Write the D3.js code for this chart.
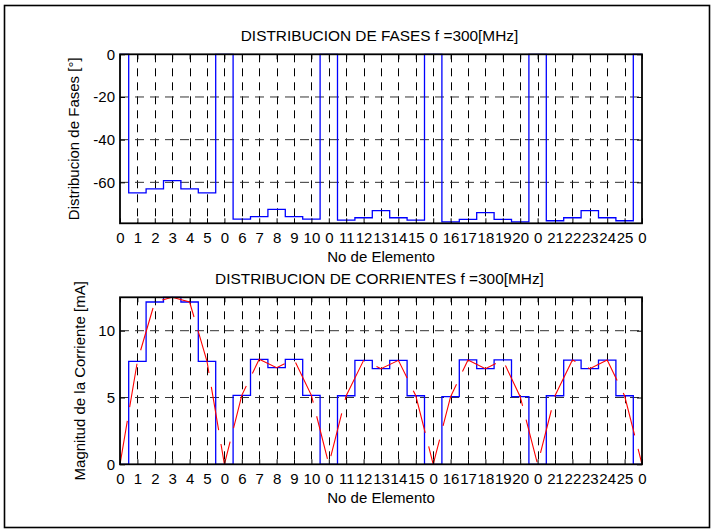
<!DOCTYPE html>
<html>
<head>
<meta charset="utf-8">
<script src="https://cdn.jsdelivr.net/npm/d3@7"></script>
<style>
  body { margin: 0; background: #fff; }
  text { font-family: Arial, "Liberation Sans", Helvetica, sans-serif; font-size: 15px; fill: #000; }
</style>
</head>
<body>
<svg id="fig" width="714" height="532"></svg>
<script>
// Tick labels along the array: element numbers with a "0" slot between groups
const xTickLabels = ["0","1","2","3","4","5","0","6","7","8","9","10","0","11","12","13","14","15",
                     "0","16","17","18","19","20","0","21","22","23","24","25","0"];

// Phase of each slot [deg]
const phaseDeg = [0, -64.9, -63.1, -59.2, -63.1, -64.9,
                  0, -77.2, -76.1, -72.7, -76.1, -77.2,
                  0, -77.7, -76.6, -73.3, -76.6, -77.7,
                  0, -78.5, -77.4, -74.2, -77.4, -78.5,
                  0, -78.0, -76.6, -73.3, -76.6, -78.0, 0];

// Current magnitude of each slot [mA]
const currentMA = [0, 7.71, 12.15, 12.5, 12.15, 7.71,
                   0, 5.16, 7.86, 7.23, 7.86, 5.16,
                   0, 5.13, 7.78, 7.16, 7.78, 5.13,
                   0, 5.06, 7.81, 7.16, 7.81, 5.06,
                   0, 5.13, 7.8, 7.16, 7.8, 5.13, 0];

const phaseTicks = [0, -20, -40, -60];
const currentTicks = [0, 5, 10];
const phaseLimits = [-79.2, 0];
const currentLimits = [0, 12.5];

const svg = d3.select("#fig");

// figure frame
svg.append("rect")
  .attr("x", 4.5).attr("y", 5.5).attr("width", 705).attr("height", 522)
  .attr("fill", "none").attr("stroke", "#000").attr("stroke-width", 1.6);

const slots = d3.range(xTickLabels.length);
const x = d3.scaleLinear().domain([0, slots.length - 1]).range([120, 642]);

function panel(cfg) {
  const { top, bottom, values, domain, ticks, title, ylabel, ylabelX, withLine } = cfg;
  const y = d3.scaleLinear().domain(domain).range([bottom, top]);
  const g = svg.append("g");
  const left = x.range()[0], right = x.range()[1];

  // grid: vertical at every slot, horizontal at inner y ticks
  g.append("g").selectAll("line")
    .data(slots.filter(i => i > 0 && i < slots.length - 1))
    .join("line")
    .attr("x1", d => Math.round(x(d)) + 0.5).attr("x2", d => Math.round(x(d)) + 0.5)
    .attr("y1", top).attr("y2", bottom)
    .attr("stroke", "#000").attr("stroke-width", 1)
    .attr("stroke-dasharray", "8,6");

  g.append("g").selectAll("line")
    .data(ticks.filter(t => y(t) > top + 1 && y(t) < bottom - 1))
    .join("line")
    .attr("x1", left).attr("x2", right)
    .attr("y1", d => y(d)).attr("y2", d => y(d))
    .attr("stroke", "#333").attr("stroke-width", 1)
    .attr("stroke-dasharray", "9,6");

  // stair plot
  const stairs = d3.line().x((d, i) => x(i)).y(d => y(d)).curve(d3.curveStep);
  g.append("path").datum(values)
    .attr("d", stairs)
    .attr("fill", "none").attr("stroke", "#0000ff").attr("stroke-width", 1.3);

  if (withLine) {
    const poly = d3.line().x((d, i) => x(i)).y(d => y(d));
    g.append("path").datum(values)
      .attr("d", poly)
      .attr("fill", "none").attr("stroke", "#ff0000").attr("stroke-width", 1.1)
      .attr("stroke-dasharray", "44,14");
  }

  // axes with inward ticks on all four sides
  const ax = (gen, tx, ty) => {
    const a = g.append("g").attr("transform", `translate(${tx},${ty})`).call(gen);
    a.select(".domain").remove();
    a.selectAll(".tick line").attr("stroke", "#000").attr("stroke-width", 1);
    a.selectAll("text").style("font-size", "15px").style("font-family", "Arial, 'Liberation Sans', sans-serif").attr("fill", "#000");
    return a;
  };
  ax(d3.axisBottom(x).tickValues(slots).tickFormat(i => xTickLabels[i]).tickSize(-5).tickPadding(9), 0, bottom);
  ax(d3.axisTop(x).tickValues(slots).tickFormat("").tickSize(-5), 0, top);
  ax(d3.axisLeft(y).tickValues(ticks).tickFormat(d => String(d)).tickSize(-5).tickPadding(5), left, 0);
  ax(d3.axisRight(y).tickValues(ticks).tickFormat("").tickSize(-5), right, 0);

  g.append("rect")
    .attr("x", left).attr("y", top).attr("width", right - left).attr("height", bottom - top)
    .attr("fill", "none").attr("stroke", "#000").attr("stroke-width", 1.8);

  g.append("text").attr("x", (left + right) / 2 - 1.5).attr("y", top - 13)
    .attr("text-anchor", "middle").style("font-size", "15.4px").text(title);
  g.append("text").attr("x", (left + right) / 2).attr("y", bottom + 39)
    .attr("text-anchor", "middle").text("No de Elemento");
  g.append("text")
    .attr("transform", `translate(${ylabelX},${(top + bottom) / 2}) rotate(-90)`)
    .attr("text-anchor", "middle").text(ylabel);
}

panel({
  top: 54.3, bottom: 223.3, values: phaseDeg, domain: phaseLimits, ticks: phaseTicks,
  title: "DISTRIBUCION DE FASES f =300[MHz]", ylabel: "Distribucion de Fases [°]",
  ylabelX: 79, withLine: false
});

panel({
  top: 297.3, bottom: 464.3, values: currentMA, domain: currentLimits, ticks: currentTicks,
  title: "DISTRIBUCION DE CORRIENTES f =300[MHz]", ylabel: "Magnitud de la Corriente [mA]",
  ylabelX: 85, withLine: true
});
</script>
</body>
</html>
